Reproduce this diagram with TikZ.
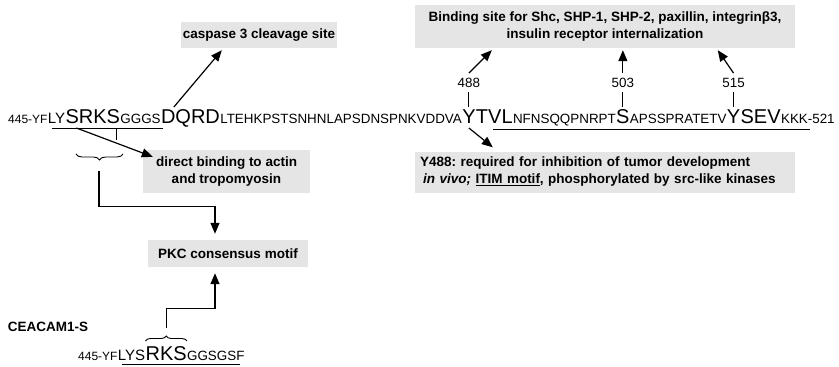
\documentclass[tikz,border=0pt]{standalone}
\usepackage{fontspec}
\setmainfont{Liberation Sans}
\usetikzlibrary{arrows.meta,decorations.pathreplacing,calc}
\newcommand\smf{\fontsize{13.4}{16}\selectfont}
\newcommand\xsf{\fontsize{12}{14}\selectfont}
\newcommand\mdf{\fontsize{15}{18}\selectfont}
\newcommand\bgf{\fontsize{20}{24}\selectfont}
\newcommand\bxf{\fontsize{13.5}{17}\selectfont\bfseries}
\frenchspacing
\begin{document}
\begin{tikzpicture}[x=1pt,y=-1pt,
 seq/.style={inner sep=0pt, anchor=base west},
 box/.style={fill=gray!20, inner sep=0pt, font=\bxf},
 lbl/.style={inner sep=0pt, font=\smf},
 arr/.style={line width=1.2pt, -{Triangle[length=11pt,width=9pt]}},
 thin/.style={line width=0.9pt},
 brc/.style={line width=0.9pt, decorate, decoration={brace, amplitude=6pt}}]
\useasboundingbox (0,0) rectangle (839,367);

% top sequence
\node[seq, font=\xsf] (s1) at (8,123) {445-YF};
\node[seq, font=\mdf] (s2) at (s1.base east) {LY};
\node[seq, font=\bgf] (s3) at (s2.base east) {SRKS};
\node[seq, font=\smf] (s4) at (s3.base east) {GGGS};
\node[seq, font=\bgf] (s5) at (s4.base east) {DQRD};
\node[seq, font=\smf] (s6) at (s5.base east) {LTEHKPSTSNHNLAPSDNSPNKVDDVA};
\node[seq, font=\bgf] (y488) at (s6.base east) {Y};
\node[seq, font=\bgf] (s7) at (y488.base east) {TVL};
\node[seq, font=\smf] (s8) at (s7.base east) {NFNSQQPNRPT};
\node[seq, font=\bgf] (s503) at (s8.base east) {S};
\node[seq, font=\smf] (s9) at (s503.base east) {APSSPRATETV};
\node[seq, font=\bgf] (y515) at (s9.base east) {Y};
\node[seq, font=\bgf] (s10) at (y515.base east) {SEV};
\node[seq, font=\smf] (s11) at (s10.base east) {KKK-521};

\draw[thin] (52,128) -- (163,128);
\draw[thin] (493,129) -- (810,129);

% residue labels
\coordinate (r84) at (0,83);
\node[lbl] (l488) at (y488.north |- r84) {488};
\node[lbl] (l503) at (s503.north |- r84) {503};
\node[lbl] (l515) at (y515.north |- r84) {515};
\foreach \a/\b in {l488/y488, l503/s503, l515/y515}
  \draw[thin] ($(\a.south)+(0,4)$) -- ($(\b.north)+(0,-2)$);

% boxes
\node[box, minimum width=156pt, minimum height=26pt] (casp) at (259,35) {caspase 3 cleavage site};
\node[box, minimum width=380pt, minimum height=43pt, align=center] (bind) at (605,26.5)
  {Binding site for Shc, SHP-1, SHP-2, paxillin, integrinβ3,\\ insulin receptor internalization};
\node[box, minimum width=167pt, minimum height=43pt, align=center] (dbind) at (226.5,171.5)
  {direct binding to actin\\and tropomyosin};
\node[box, minimum width=160pt, minimum height=27pt] (pkc) at (228,253.5) {PKC consensus motif};
\node[box, text width=370pt, inner xsep=5pt, minimum height=41pt, align=left] (ybox) at (605,172)
  {Y488: required for inhibition of tumor development\\
   \hspace*{3pt}\textit{in vivo;} \underline{ITIM motif}, phosphorylated by src-like kinases};

% arrows to boxes
\draw[arr] ($(s5.base west)+(13,-16)$) -- ($(casp.south west)+(41,2)$);
\draw[arr] ($(l488.north)+(0,-5)$) -- ($(bind.south west)+(77,2)$);
\draw[arr] ($(l503.north)+(0,-5)$) -- ($(l503.north |- bind.south)+(0,2)$);
\draw[arr] ($(l515.north)+(0,-5)$) -- ($(bind.south west)+(303,2)$);
\draw[arr] ($(y488.base)+(0,5)$) -- ($(ybox.north west)+(78,-4)$);
\draw[arr] ($(s3.base west)+(11,5)$) -- ($(dbind.north west)+(10,7)$);

% upper brace and PKC route
\draw[thin] (116,128) -- (116,140);
\draw[brc] (123,154) -- (76,154);
\coordinate (ub) at (99,171);
\draw[arr, shorten >=6pt] (ub) |- ($(pkc.north)+(-13,-33)$) -- ($(pkc.north)+(-13,0)$);

% CEACAM1-S
\node[font=\bxf, inner sep=0pt] (cea) at (48,327) {CEACAM1-S};
\node[seq, font=\xsf] (t1) at (78,360) {445-YF};
\node[seq, font=\mdf] (t2) at (t1.base east) {LYS};
\node[seq, font=\bgf] (t3) at (t2.base east) {RKS};
\node[seq, font=\smf] (t4) at (t3.base east) {GGSGSF};
\draw[thin] (122,364.5) -- (240,364.5);
\draw[brc, decoration={amplitude=5pt}] ($(t3.base west)+(0,-19)$) -- ($(t3.base east)+(0,-19)$);
\coordinate (lb) at ($(t3.base)+(0,-32)$);
\draw[arr, shorten >=6pt] (lb) |- ($(pkc.south)+(-13,41)$) -- ($(pkc.south)+(-13,0)$);
\end{tikzpicture}
\end{document}
